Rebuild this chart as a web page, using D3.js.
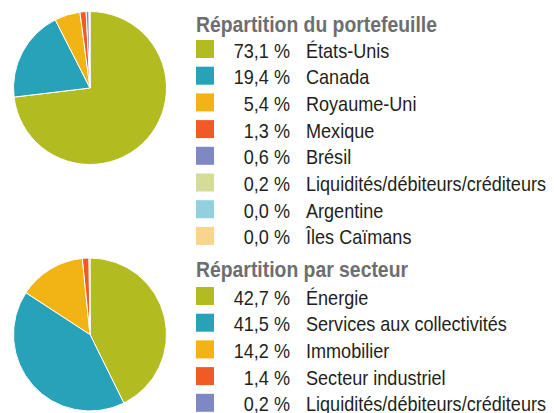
<!DOCTYPE html>
<html>
<head>
<meta charset="utf-8">
<script src="https://cdn.jsdelivr.net/npm/d3@7"></script>
<style>
  body { margin: 0; background: #fff; }
  svg text { font-family: "Liberation Sans", Arial, sans-serif; }
</style>
</head>
<body>
<svg id="chart"></svg>
<script>
// Répartition du portefeuille (pays)
const countryLabels = ['États-Unis', 'Canada', 'Royaume-Uni', 'Mexique', 'Brésil',
  'Liquidités/débiteurs/créditeurs', 'Argentine', 'Îles Caïmans'];
const countryValues = [73.1, 19.4, 5.4, 1.3, 0.6, 0.2, 0.0, 0.0];
const countryColors = ['#b2bc21', '#27a2b8', '#f1b414', '#f15a24', '#8088c4',
  '#d4dc97', '#92cfdf', '#f9d48c'];

// Répartition par secteur
const sectorLabels = ['Énergie', 'Services aux collectivités', 'Immobilier',
  'Secteur industriel', 'Liquidités/débiteurs/créditeurs'];
const sectorValues = [42.7, 41.5, 14.2, 1.4, 0.2];
const sectorColors = ['#b2bc21', '#27a2b8', '#f1b414', '#f15a24', '#8088c4'];

const titles = ['Répartition du portefeuille', 'Répartition par secteur'];

const config = {
  width: 554,
  height: 413,
  radius: 76.5,
  pieX: 90,
  legendX: 196,
  pctRight: 290,
  labelX: 306,
  rowStep: 26.7,
  fontSize: 21,
  titleSize: 22,
  // widths, used to squeeze the text like the condensed original
  refLabelWidth: 240, // "Liquidités/débiteurs/créditeurs"
  refTitleWidth: 241, // "Répartition du portefeuille"
  blocks: [
    { title: titles[0], labels: countryLabels, values: countryValues, colors: countryColors, pieY: 88, titleY: 32, firstRowY: 49 },
    { title: titles[1], labels: sectorLabels, values: sectorValues, colors: sectorColors, pieY: 334.5, titleY: 277, firstRowY: 296 },
  ],
};

const svg = d3.select('#chart')
  .attr('width', config.width)
  .attr('height', config.height);

const fmt = (v) => d3.format('.1f')(v).replace('.', ',') + ' %';

// Measure a string to find the horizontal squeeze factor
function measure(str, size, bold) {
  const t = svg.append('text')
    .attr('font-size', size)
    .attr('font-weight', bold ? 'bold' : 'normal')
    .text(str);
  const w = t.node().getComputedTextLength();
  t.remove();
  return w;
}
const rowK = config.refLabelWidth / measure(countryLabels[5], config.fontSize, false);
const titleK = config.refTitleWidth / measure(titles[0], config.titleSize, true);

function squeeze(sel, k) {
  sel.each(function () {
    const w = this.getComputedTextLength();
    d3.select(this)
      .attr('textLength', w * k)
      .attr('lengthAdjust', 'spacingAndGlyphs');
  });
}

config.blocks.forEach((b) => {
  // Pie, clockwise from 12 o'clock
  const pie = d3.pie().sort(null).value((d) => d)(b.values);
  const arc = d3.arc().innerRadius(0).outerRadius(config.radius);

  const g = svg.append('g')
    .attr('transform', `translate(${config.pieX},${b.pieY})`);

  g.selectAll('path')
    .data(pie)
    .join('path')
    .attr('d', arc)
    .attr('fill', (d, i) => b.colors[i])
    .attr('stroke', '#fff')
    .attr('stroke-width', (d) => (d.value > 0 ? 1 : 0));

  // Legend title
  svg.append('text')
    .attr('x', config.legendX)
    .attr('y', b.titleY)
    .attr('fill', '#6d6e71')
    .attr('font-size', config.titleSize)
    .attr('font-weight', 'bold')
    .text(b.title)
    .call(squeeze, titleK);

  const y = d3.scaleLinear()
    .domain([0, 1])
    .range([b.firstRowY, b.firstRowY + config.rowStep]);

  const rows = svg.append('g')
    .selectAll('g')
    .data(b.labels)
    .join('g')
    .attr('transform', (d, i) => `translate(0,${y(i)})`);

  rows.append('rect')
    .attr('x', config.legendX)
    .attr('y', -9)
    .attr('width', 18)
    .attr('height', 18)
    .attr('fill', (d, i) => b.colors[i]);

  rows.append('text')
    .attr('x', config.pctRight)
    .attr('y', 8.5)
    .attr('text-anchor', 'end')
    .attr('fill', '#231f20')
    .attr('font-size', config.fontSize)
    .text((d, i) => fmt(b.values[i]))
    .call(squeeze, rowK);

  rows.append('text')
    .attr('x', config.labelX)
    .attr('y', 8.5)
    .attr('fill', '#231f20')
    .attr('font-size', config.fontSize)
    .text((d) => d)
    .call(squeeze, rowK);
});
</script>
</body>
</html>
